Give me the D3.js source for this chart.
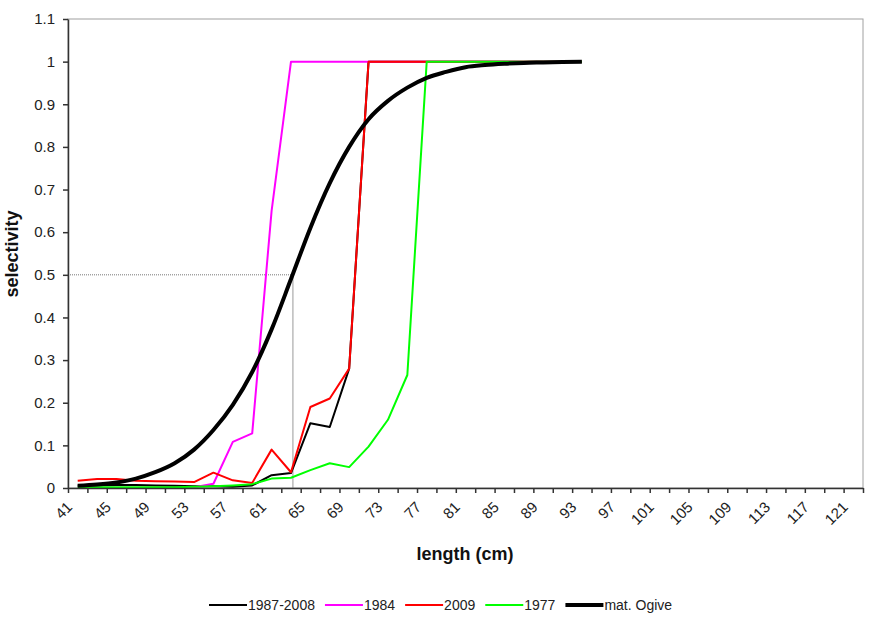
<!DOCTYPE html>
<html>
<head>
<meta charset="utf-8">
<script src="https://cdn.jsdelivr.net/npm/d3@7"></script>
<style>
  body { margin: 0; background: #fff; }
  svg { display: block; font-family: "Liberation Sans", Arial, sans-serif; }
</style>
</head>
<body>
<div id="chart"></div>
<script>
// length classes (cm) that carry data points
var lengths = [41, 43, 45, 47, 49, 51, 53, 55, 57, 59, 61, 63, 65, 67, 69, 71, 73, 75, 77, 79, 81, 83, 85, 87, 89, 91, 93];

// selectivity per series
var sel8708 = [0.005, 0.006, 0.007, 0.007, 0.006, 0.005, 0.004, 0.004, 0.003, 0.006, 0.03, 0.035, 0.152, 0.143, 0.28, 1, 1, 1, 1, 1, 1, 1, 1, 1, 1, 1, 1];
var sel1984 = [0, 0, 0, 0, 0, 0, 0.002, 0.01, 0.108, 0.128, 0.65, 1, 1, 1, 1, 1, 1, 1, 1, 1, 1, 1, 1, 1, 1, 1, 1];
var sel2009 = [0.017, 0.021, 0.021, 0.017, 0.016, 0.015, 0.014, 0.036, 0.018, 0.012, 0.09, 0.037, 0.19, 0.21, 0.28, 1, 1, 1, 1, 1, 1, 1, 1, 1, 1, 1, 1];
var sel1977 = [0.002, 0.002, 0.002, 0.002, 0.002, 0.002, 0.003, 0.004, 0.006, 0.009, 0.022, 0.024, 0.042, 0.058, 0.049, 0.097, 0.16, 0.265, 1, 1, 1, 1, 1, 1, 1, 1, 1];
var ogive   = [0.005, 0.008, 0.013, 0.022, 0.037, 0.058, 0.09, 0.136, 0.195, 0.272, 0.372, 0.49, 0.61, 0.715, 0.8, 0.865, 0.908, 0.939, 0.962, 0.976, 0.987, 0.992, 0.995, 0.997, 0.998, 0.999, 1];

// length at 50% maturity (drop lines)
var l50 = 63.2;

var xLabels = [41, 45, 49, 53, 57, 61, 65, 69, 73, 77, 81, 85, 89, 93, 97, 101, 105, 109, 113, 117, 121];
var yTicks = [0, 0.1, 0.2, 0.3, 0.4, 0.5, 0.6, 0.7, 0.8, 0.9, 1, 1.1];

var series = [
    { name: "1987-2008", values: sel8708, color: "#000000", width: 2, smooth: false },
    { name: "1984", values: sel1984, color: "#ff00ff", width: 2, smooth: false },
    { name: "2009", values: sel2009, color: "#ff0000", width: 2, smooth: false },
    { name: "1977", values: sel1977, color: "#00ff00", width: 2, smooth: false },
    { name: "mat. Ogive", values: ogive, color: "#000000", width: 4, smooth: true }
];

var width = 873, height = 624;
var svg = d3.select("#chart").append("svg")
    .attr("width", width)
    .attr("height", height);

// category axis: each class is 2 cm wide, ticks fall between classes
var x = d3.scaleLinear().domain([40, 122]).range([68, 863]);
var y = d3.scaleLinear().domain([0, 1.1]).range([488, 19]);

// plot area border (top and right show in grey)
svg.append("rect")
    .attr("x", x(40)).attr("y", y(1.1))
    .attr("width", x(122) - x(40)).attr("height", y(0) - y(1.1))
    .attr("fill", "none")
    .attr("stroke", "#a0a0a0")
    .attr("stroke-width", 1);

// drop lines at L50
svg.append("line")
    .attr("x1", x(40)).attr("x2", x(l50))
    .attr("y1", y(0.5)).attr("y2", y(0.5))
    .attr("stroke", "#777")
    .attr("stroke-width", 1)
    .attr("stroke-dasharray", "1,1");
svg.append("line")
    .attr("x1", x(l50)).attr("x2", x(l50))
    .attr("y1", y(0.5)).attr("y2", y(0))
    .attr("stroke", "#999")
    .attr("stroke-width", 1);

var line = d3.line()
    .x(function(d, i) { return x(lengths[i]); })
    .y(function(d) { return y(d); });
var smoothLine = d3.line()
    .x(function(d, i) { return x(lengths[i]); })
    .y(function(d) { return y(d); })
    .curve(d3.curveMonotoneX);

svg.append("g")
    .selectAll("path")
    .data(series)
    .enter()
    .append("path")
    .attr("d", function(s) { return s.smooth ? smoothLine(s.values) : line(s.values); })
    .attr("fill", "none")
    .attr("stroke", function(s) { return s.color; })
    .attr("stroke-width", function(s) { return s.width; })
    .attr("stroke-linejoin", "round");

// y axis
var yAxis = svg.append("g")
    .attr("transform", "translate(" + x(40) + ",0)")
    .call(d3.axisLeft(y).tickValues(yTicks).tickSize(5).tickSizeOuter(0).tickPadding(8)
        .tickFormat(function(d) { return String(d); }));
yAxis.selectAll("text").style("font-size", "15px").attr("fill", "#222");

// x axis tick marks between classes
var xTickMarks = d3.range(40, 123, 2);
var xAxis = svg.append("g")
    .attr("transform", "translate(0," + y(0) + ")")
    .call(d3.axisBottom(x).tickValues(xTickMarks).tickSize(5).tickSizeOuter(0).tickFormat(""));

// x labels, rotated
var xLab = svg.append("g")
    .attr("transform", "translate(0," + y(0) + ")")
    .call(d3.axisBottom(x).tickValues(xLabels).tickSize(0).tickFormat(function(d) { return d; }));
xLab.select(".domain").remove();
xLab.selectAll("text")
    .style("font-size", "15px")
    .attr("fill", "#222")
    .attr("text-anchor", "end")
    .attr("dy", null)
    .attr("y", 0)
    .attr("transform", "translate(-5,20) rotate(-45)");

svg.selectAll(".domain, .tick line")
    .attr("stroke", "#333")
    .attr("stroke-width", 1.5);

// axis titles
svg.append("text")
    .attr("x", 465).attr("y", 560)
    .attr("text-anchor", "middle")
    .style("font-size", "18px")
    .style("font-weight", "bold")
    .attr("fill", "#111")
    .text("length (cm)");

svg.append("text")
    .attr("transform", "translate(18,254) rotate(-90)")
    .attr("text-anchor", "middle")
    .style("font-size", "18px")
    .style("font-weight", "bold")
    .attr("fill", "#111")
    .text("selectivity");

// legend
var legend = svg.append("g").attr("transform", "translate(209,605)");
var lx = 0;
series.forEach(function(s) {
    legend.append("line")
        .attr("x1", lx).attr("x2", lx + 38)
        .attr("y1", 0).attr("y2", 0)
        .attr("stroke", s.color)
        .attr("stroke-width", s.width);
    var t = legend.append("text")
        .attr("x", lx + 39).attr("y", 5)
        .style("font-size", "14px")
        .attr("fill", "#222")
        .text(s.name);
    lx += 39 + t.node().getComputedTextLength() + 10;
});
</script>
</body>
</html>
